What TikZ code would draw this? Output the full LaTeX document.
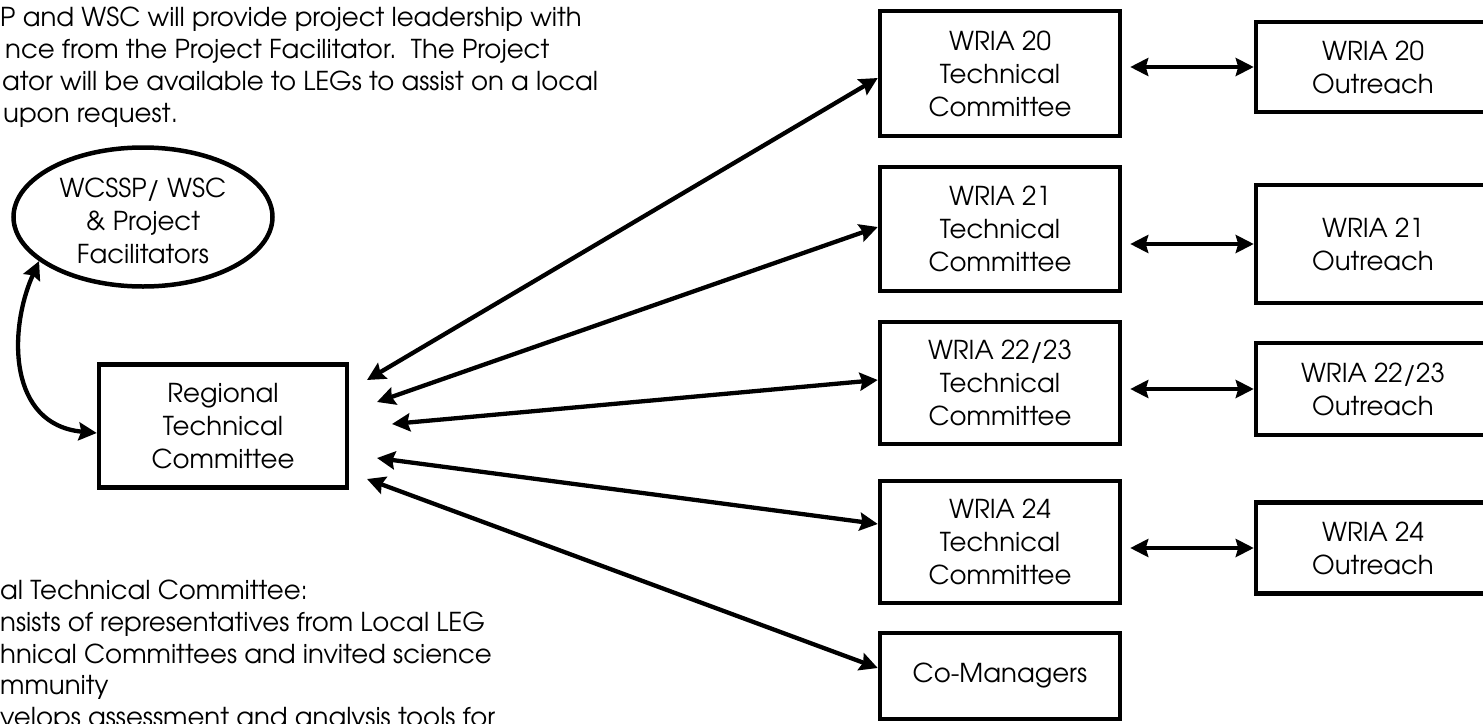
\documentclass[tikz,border=0pt]{standalone}
\usepackage{fontspec}
\setmainfont{TeX Gyre Adventor}
\usetikzlibrary{arrows.meta,shapes.geometric}
\begin{document}
\begin{tikzpicture}[x=1pt,y=-1pt,
  box/.style={draw, line width=4.5pt, align=center, inner sep=0pt, font=\fontsize{26}{33}\selectfont},
  oval/.style={ellipse, draw, line width=4.5pt, inner sep=0pt},
  lbl/.style={align=center, inner sep=0pt, font=\fontsize{26}{33}\selectfont},
  txt/.style={anchor=base west, inner sep=0pt, font=\fontsize{26}{32}\selectfont},
  tip/.tip={Stealth[length=18pt,width=18pt,inset=2.5pt]},
  link/.style={line width=4.3pt, tip-tip},
]
\useasboundingbox (0,0) rectangle (1483,723);

% top-left paragraph (cropped at left)
\node[txt] (p1) at (0,26) {P and WSC will provide project leadership with};
\node[txt] (p2) at (5,58) {nce from the Project Facilitator.\ \ The Project};
\node[txt] (p3) at (2,90) {ator will be available to LEGs to assist on a local};
\node[txt] (p4) at (3,122) {upon request.};

% bottom-left paragraph (cropped)
\node[txt] (q1) at (0,599) {al Technical Committee:};
\node[txt] (q2) at (0,631) {nsists of representatives from Local LEG};
\node[txt] (q3) at (0,663) {hnical Committees and invited science};
\node[txt] (q4) at (0,694) {mmunity};
\node[txt] (q5) at (0,726) {velops assessment and analysis tools for};

% left nodes
\node[oval, minimum width=259pt, minimum height=139pt] (wc) at (143,217) {};
\node[lbl] (wct) at (143,221) {WCSSP/ WSC\\\& Project\\Facilitators};
\node[box, minimum width=248pt, minimum height=123pt] (reg) at (223,426) {Regional\\Technical\\Committee};

% technical committees
\node[box, minimum width=240pt, minimum height=125pt] (t20) at (1000,73.5) {WRIA 20\\Technical\\Committee};
\node[box, minimum width=240pt, minimum height=124pt] (t21) at (1000,229) {WRIA 21\\Technical\\Committee};
\node[box, minimum width=240pt, minimum height=122pt] (t22) at (1000,383) {WRIA 22/23\\Technical\\Committee};
\node[box, minimum width=240pt, minimum height=122pt] (t24) at (1000,542) {WRIA 24\\Technical\\Committee};
\node[box, minimum width=240pt, minimum height=86pt] (cm) at (1000,676) {Co-Managers};

% outreach
\node[box, minimum width=234pt, minimum height=90pt] (o20) at (1373,67) {WRIA 20\\Outreach};
\node[box, minimum width=234pt, minimum height=118pt] (o21) at (1373,244) {WRIA 21\\Outreach};
\node[box, minimum width=234pt, minimum height=92pt] (o22) at (1373,389) {WRIA 22/23\\Outreach};
\node[box, minimum width=234pt, minimum height=91pt] (o24) at (1373,548) {WRIA 24\\Outreach};

% free ends near the regional committee
\coordinate (r1) at (367,380);
\coordinate (r2) at (377,402);
\coordinate (r3) at (392,424);
\coordinate (r4) at (377,458);
\coordinate (r5) at (367,479);

\draw[link] (r1) -- ([yshift=-4.5pt]t20.west);
\draw[link] (r2) -- ([yshift=2pt]t21.west);
\draw[link] (r3) -- ([yshift=3pt]t22.west);
\draw[link] (r4) -- ([yshift=18pt]t24.west);
\draw[link] (r5) -- ([yshift=8pt]cm.west);

% TC to outreach
\draw[link] ([xshift=8pt]t20.east |- o20.west) -- (o20.west);
\draw[link] ([xshift=8pt]t21.east |- o21.west) -- (o21.west);
\draw[link] ([xshift=8pt]t22.east |- o22.west) -- (o22.west);
\draw[link] ([xshift=8pt]t24.east |- o24.west) -- (o24.west);

% ellipse to regional
\draw[link] (wc.203) .. controls (8,330) and (8,425) .. ([yshift=-7pt]reg.west);
\end{tikzpicture}
\end{document}
